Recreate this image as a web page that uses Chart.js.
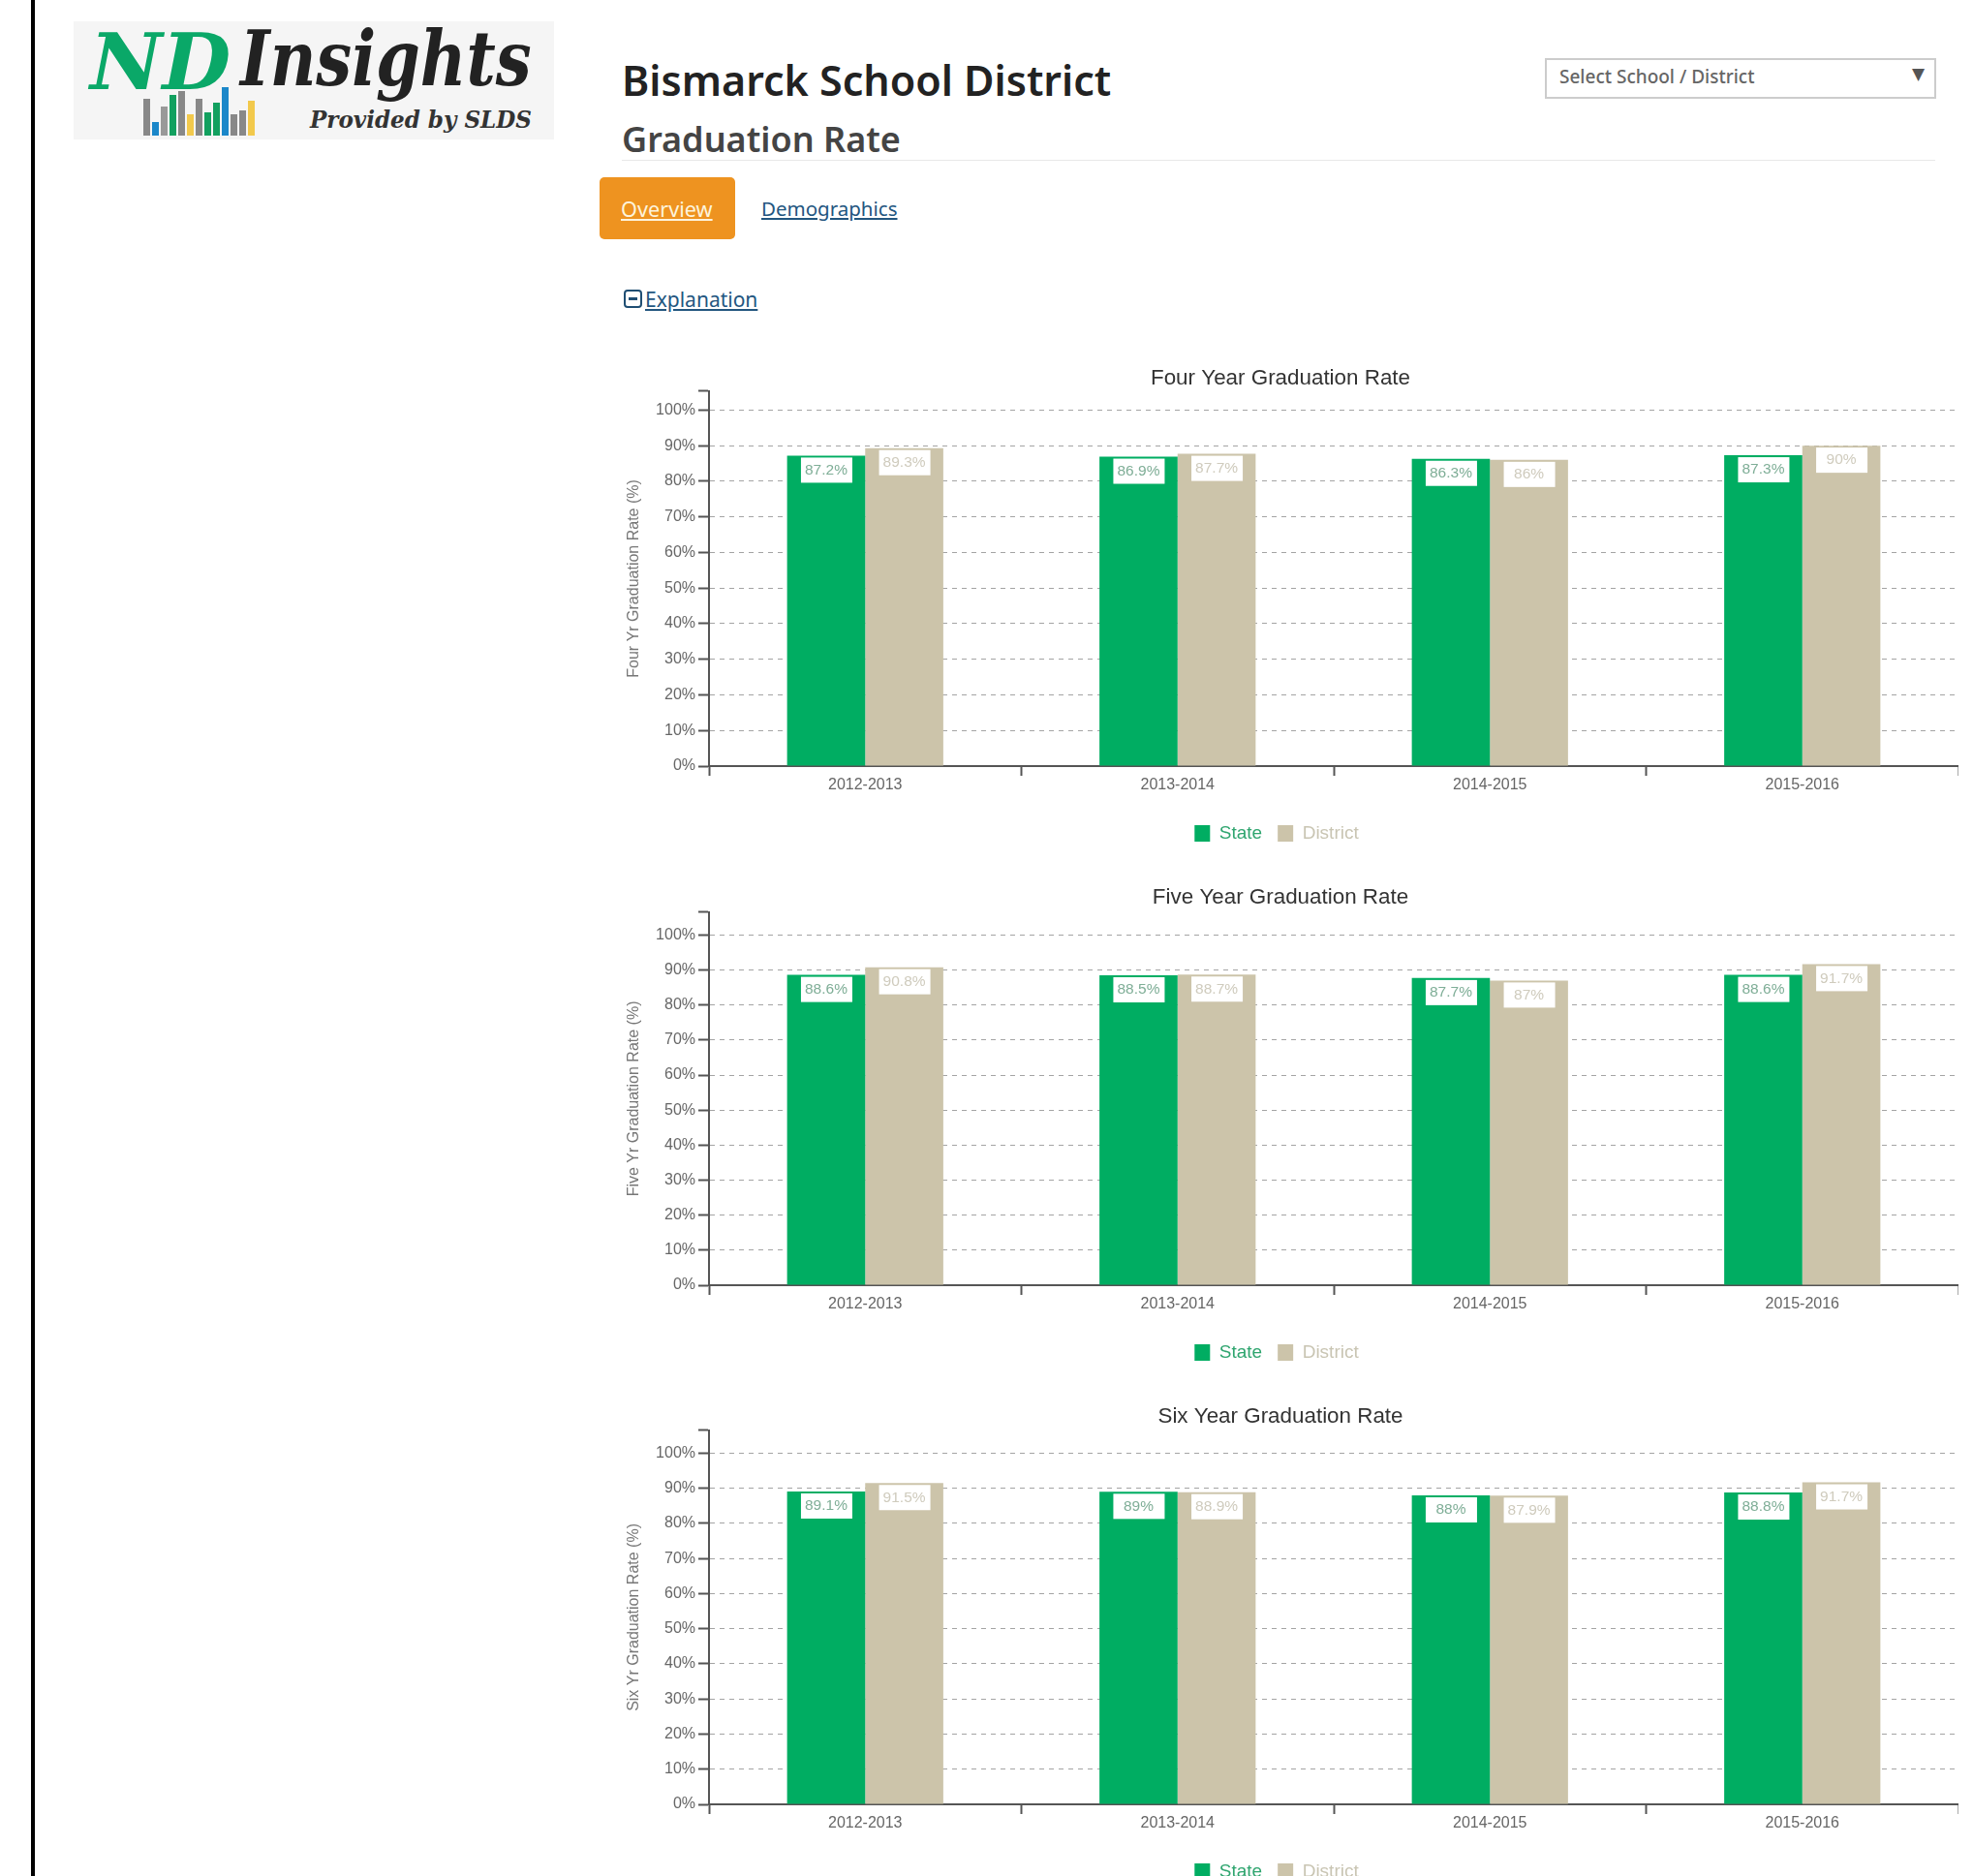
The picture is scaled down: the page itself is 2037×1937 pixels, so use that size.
<!DOCTYPE html>
<html>
<head>
<meta charset="utf-8">
<title>Graduation Rate</title>
<script src="https://cdn.jsdelivr.net/npm/chart.js@4"></script>
<style>
  html, body { margin: 0; padding: 0; background: #fff; width: 2037px; height: 1937px; overflow: hidden; }
  .abs { position: absolute; white-space: nowrap; }
  canvas { position: absolute; left: 622px; }
  #sidebar-line { left: 32px; top: 0; width: 4px; height: 1937px; background: #000; }
  #logo { left: 76px; top: 22px; width: 496px; height: 122px; background: #f5f5f5; }
  #logo-nd { left: 93px; top: 17px; font: italic bold 80px "DejaVu Serif"; color: #0aa868; transform-origin: left top; transform: scaleX(1.02); }
  #logo-ins { left: 248px; top: 15px; font: italic bold 78px "DejaVu Serif"; color: #222; transform-origin: left top; transform: scaleX(.84); }
  #logo-by { left: 320px; top: 109px; font: italic bold 24px "DejaVu Serif"; color: #333; transform-origin: left top; transform: scaleX(.96); }
  #logo-bars { left: 148px; top: 90px; height: 50px; display: flex; align-items: flex-end; gap: 2px; }
  #logo-bars div { width: 7px; }
  #h1 { left: 642px; top: 53px; font: 600 43px "Noto Sans"; color: #222; }
  #h2 { left: 642px; top: 119px; font: 600 36px "Noto Sans"; color: #444; }
  #rule { left: 642px; top: 165px; width: 1356px; height: 1px; background: #e8e8e8; }
  #tab { left: 619px; top: 183px; width: 140px; height: 64px; background: #ee9320; border-radius: 5px; }
  #tab-text { left: 641px; top: 201px; font: 21.7px "Noto Sans"; color: #fdf3dc; text-decoration: underline; }
  #demo { left: 786px; top: 201px; font: 20.5px "Noto Sans"; color: #23567f; text-decoration: underline; }
  #exp-icon { left: 644px; top: 299px; width: 15px; height: 15px; border: 2px solid #1f4e73; border-radius: 4px; }
  #exp-icon::after { content: ""; position: absolute; left: 3px; top: 6px; width: 9px; height: 3px; background: #1f4e73; }
  #exp { left: 666px; top: 295px; font: 21px "Noto Sans"; color: #23567f; text-decoration: underline; }
  #select { left: 1595px; top: 60px; width: 400px; height: 38px; border: 2px solid #ccc; }
  #select-text { left: 1610px; top: 66px; font: 500 19px "Noto Sans"; color: #666; }
  #select-arrow { left: 1974px; top: 66px; font: 17px "DejaVu Sans"; color: #555; }
</style>
</head>
<body>
<div class="abs" id="sidebar-line"></div>
<div class="abs" id="logo"></div>
<div class="abs" id="logo-nd">ND</div>
<div class="abs" id="logo-ins">Insights</div>
<div class="abs" id="logo-by">Provided by SLDS</div>
<div class="abs" id="logo-bars"></div>

<div class="abs" id="h1">Bismarck School District</div>
<div class="abs" id="h2">Graduation Rate</div>
<div class="abs" id="rule"></div>
<div class="abs" id="tab"></div>
<div class="abs" id="tab-text">Overview</div>
<div class="abs" id="demo">Demographics</div>
<div class="abs" id="exp-icon"></div>
<div class="abs" id="exp">Explanation</div>
<div class="abs" id="select"></div>
<div class="abs" id="select-text">Select School / District</div>
<div class="abs" id="select-arrow">▼</div>

<canvas id="chartFour" width="1400" height="510" style="top:370px"></canvas>
<canvas id="chartFive" width="1400" height="510" style="top:906px"></canvas>
<canvas id="chartSix" width="1400" height="510" style="top:1442px"></canvas>

<script>
const categories = ["2012-2013", "2013-2014", "2014-2015", "2015-2016"];
const yTicks = [0, 10, 20, 30, 40, 50, 60, 70, 80, 90, 100];

const stateFour = [87.2, 86.9, 86.3, 87.3];
const districtFour = [89.3, 87.7, 86, 90];
const stateFive = [88.6, 88.5, 87.7, 88.6];
const districtFive = [90.8, 88.7, 87, 91.7];
const stateSix = [89.1, 89, 88, 88.8];
const districtSix = [91.5, 88.9, 87.9, 91.7];

const green = "#00ad62";
const beige = "#ccc4aa";

// little bars of the logo
const logoHeights = [38, 14, 30, 42, 46, 22, 38, 24, 34, 50, 22, 26, 36];
const logoColors = ["#888", "#1b87c9", "#999", "#12a05f", "#888", "#f2c94c", "#888", "#12a05f", "#12a05f", "#1b87c9", "#888", "#888", "#f2c94c"];
logoHeights.forEach((h, i) => {
  const d = document.createElement("div");
  d.style.height = h + "px";
  d.style.background = logoColors[i];
  document.getElementById("logo-bars").appendChild(d);
});

// white boxes with the value on top of every bar
const valueBoxes = {
  id: "valueBoxes",
  afterLayout(chart) {
    // the legend sits a little left of the canvas centre
    chart.legend.left -= 4;
    chart.legend.right -= 4;
  },
  afterDatasetsDraw(chart) {
    const ctx = chart.ctx;
    ctx.save();
    ctx.font = '15.5px "Liberation Sans"';
    ctx.textAlign = "center";
    ctx.textBaseline = "middle";
    chart.data.datasets.forEach((ds, i) => {
      chart.getDatasetMeta(i).data.forEach((bar, j) => {
        ctx.fillStyle = "#fff";
        ctx.fillRect(bar.x - 26, bar.y + 2, 53, 26);
        ctx.fillStyle = i === 0 ? "#7fae97" : "#cfcbbd";
        ctx.fillText(ds.data[j] + "%", bar.x, bar.y + 15);
      });
    });
    ctx.restore();
  },
};

function makeChart(id, titleText, axisText, stateValues, districtValues, yTop, titleGap) {
  return new Chart(document.getElementById(id), {
    type: "bar",
    data: {
      labels: categories,
      datasets: [
        { label: "State", data: stateValues, backgroundColor: green, categoryPercentage: 0.5, barPercentage: 1 },
        { label: "District", data: districtValues, backgroundColor: beige, categoryPercentage: 0.5, barPercentage: 1 },
      ],
    },
    plugins: [valueBoxes],
    options: {
      responsive: false,
      animation: false,
      plugins: {
        tooltip: { enabled: false },
        title: {
          display: true,
          text: titleText,
          color: "#333",
          font: { family: "Liberation Sans", size: 22.4, weight: "normal" },
          padding: { top: 7, bottom: titleGap },
        },
        legend: {
          position: "bottom",
          onClick: null,
          labels: {
            boxWidth: 16,
            boxHeight: 17,
            padding: 16,
            font: { family: "Liberation Sans", size: 19 },
            generateLabels(chart) {
              return chart.data.datasets.map((ds, i) => ({
                text: ds.label,
                fillStyle: ds.backgroundColor,
                strokeStyle: ds.backgroundColor,
                fontColor: i === 0 ? "#2fa56f" : "#c9c5b3",
                lineWidth: 0,
                datasetIndex: i,
              }));
            },
          },
        },
      },
      scales: {
        x: {
          grid: { drawOnChartArea: false, tickLength: 10, tickColor: "#555", tickWidth: 2 },
          border: { color: "#555", width: 2 },
          ticks: { color: "#666", padding: 0, maxRotation: 0, font: { family: "Liberation Sans", size: 16 } },
          afterFit(scale) { scale.height = 44; },
        },
        y: {
          min: 0,
          max: yTop,
          afterBuildTicks(scale) {
            scale.ticks = yTicks.concat(yTop).map((v) => ({ value: v }));
          },
          grid: {
            tickLength: 11,
            tickColor: "#555",
            tickWidth: 2,
            tickBorderDash: [],
            color: (c) => (c.tick && (c.tick.value === yTop || c.tick.value === 0) ? "rgba(0,0,0,0)" : "#a4a4a4"),
          },
          border: { color: "#555", width: 2, dash: [5, 5] },
          ticks: {
            color: "#666",
            padding: 3,
            font: { family: "Liberation Sans", size: 16 },
            callback: (v) => (v === yTop ? "" : v + "%"),
          },
          title: {
            display: true,
            text: axisText,
            color: "#777",
            font: { family: "Liberation Sans", size: 16 },
            padding: { top: 23, bottom: 0 },
          },
          afterFit(scale) { scale.width = 110; },
        },
      },
    },
  });
}

makeChart("chartFour", "Four Year Graduation Rate", "Four Yr Graduation Rate (%)", stateFour, districtFour, 105.3, 0);
makeChart("chartFive", "Five Year Graduation Rate", "Five Yr Graduation Rate (%)", stateFive, districtFive, 106.5, 2);
makeChart("chartSix", "Six Year Graduation Rate", "Six Yr Graduation Rate (%)", stateSix, districtSix, 106.5, 1);
</script>
</body>
</html>
